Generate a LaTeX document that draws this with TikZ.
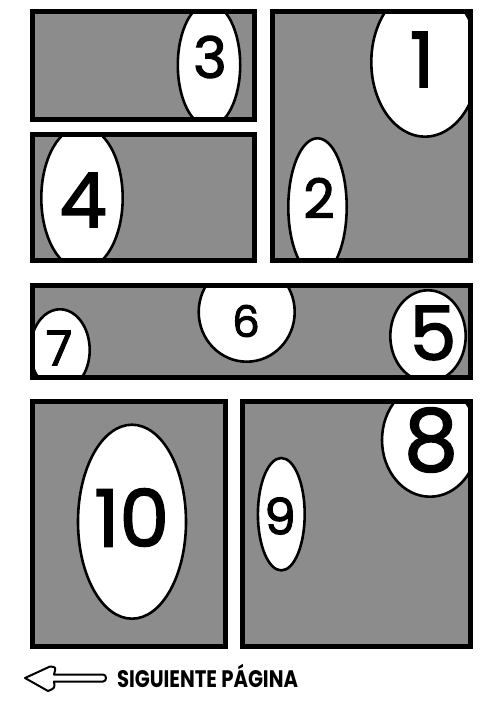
\documentclass[tikz,border=0pt]{standalone}
\usepackage{fontspec}
\usepackage{graphicx}
\newfontfamily\popfont{Poppins}
\newfontfamily\popdig[FakeBold=2]{Poppins}
\usetikzlibrary{shapes.geometric}
\definecolor{panelgray}{RGB}{140,140,140}
\newcommand{\dig}[2]{\resizebox{!}{#1pt}{\popdig #2}}
\tikzset{
  panelframe/.style={draw=black, line width=5pt},
  panelfill/.style={fill=panelgray},
  bubble/.style={ellipse, draw=black, fill=white, line width=2.6pt, inner sep=0pt, outer sep=0pt},
  num/.style={inner sep=0pt, outer sep=0pt},
}
\begin{document}
\begin{tikzpicture}[x=1pt,y=-1pt]
\useasboundingbox[fill=white] (0,0) rectangle (500,703);

% panel 3
\begin{scope}
\clip (32.5,11.5) rectangle (254.5,119.5);
\fill[panelfill] (32.5,11.5) rectangle (254.5,119.5);
\node[bubble, minimum width=62.4pt, minimum height=123.4pt] (e3) at (209,65) {};
\node[num] (n3) at (210,57) {\dig{42}{3}};
\end{scope}
\draw[panelframe] (32.5,11.5) rectangle (254.5,119.5);

% panel 4
\begin{scope}
\clip (32.5,135) rectangle (254.5,260);
\fill[panelfill] (32.5,135) rectangle (254.5,260);
\node[bubble, minimum width=81.4pt, minimum height=143.4pt] (e4) at (82,198) {};
\node[num] (n4) at (83,200) {\dig{54}{4}};
\end{scope}
\draw[panelframe] (32.5,135) rectangle (254.5,260);

% panel 1-2
\begin{scope}
\clip (272.5,11.5) rectangle (470.5,260);
\fill[panelfill] (272.5,11.5) rectangle (470.5,260);
\node[bubble, minimum width=107.4pt, minimum height=149.4pt] (e1) at (425,62) {};
\node[num] (n1) at (422,59.5) {\dig{55}{1}};
\node[bubble, minimum width=58.4pt, minimum height=137.4pt] (e2) at (317.5,207) {};
\node[num] (n2) at (319,198) {\dig{40}{2}};
\end{scope}
\draw[panelframe] (272.5,11.5) rectangle (470.5,260);

% band 5-6-7
\begin{scope}
\clip (32.5,285.5) rectangle (470,377.5);
\fill[panelfill] (32.5,285.5) rectangle (470,377.5);
\node[bubble, minimum width=59.4pt, minimum height=81.4pt] (e7) at (60,350) {};
\node[num] (n7) at (59,348) {\dig{35}{7}};
\node[bubble, minimum width=96pt, minimum height=99.4pt] (e6) at (246.7,312) {};
\node[num] (n6) at (246,321) {\dig{32}{6}};
\node[bubble, minimum width=75.4pt, minimum height=91.4pt] (e5) at (428,336) {};
\node[num] (n5) at (433,333) {\dig{54}{5}};
\end{scope}
\draw[panelframe] (32.5,285.5) rectangle (470,377.5);

% panel 10
\begin{scope}
\clip (32.5,401) rectangle (225,646.5);
\fill[panelfill] (32.5,401) rectangle (225,646.5);
\node[bubble, minimum width=108pt, minimum height=194pt] (e10) at (132,521.7) {};
\node[num] (n10) at (131.7,517.5) {\dig{58}{10}};
\end{scope}
\draw[panelframe] (32.5,401) rectangle (225,646.5);

% panel 8-9
\begin{scope}
\clip (242.5,401) rectangle (470.5,646.5);
\fill[panelfill] (242.5,401) rectangle (470.5,646.5);
\node[bubble, minimum width=96pt, minimum height=113.4pt] (e8) at (430,440) {};
\node[num] (n8) at (431,440) {\dig{63}{8}};
\node[bubble, minimum width=46.8pt, minimum height=112.4pt] (e9) at (281.3,514.2) {};
\node[num] (n9) at (280,516) {\dig{37}{9}};
\end{scope}
\draw[panelframe] (242.5,401) rectangle (470.5,646.5);

% arrow
\draw[line width=2pt, line join=round, fill=white]
  (25,678) -- (50,666.5) .. controls (56,667) .. (54,674.5)
  -- (103,674.5) .. controls (107,674.5) and (107,681.5) .. (103,681.5)
  -- (54,681.5) .. controls (55,688) .. (48,691) -- cycle;
\node[num, anchor=base west] (next) at (117,687)
  {\resizebox{181pt}{17pt}{\popfont\bfseries SIGUIENTE P\smash{Á}GINA}};
\end{tikzpicture}
\end{document}
